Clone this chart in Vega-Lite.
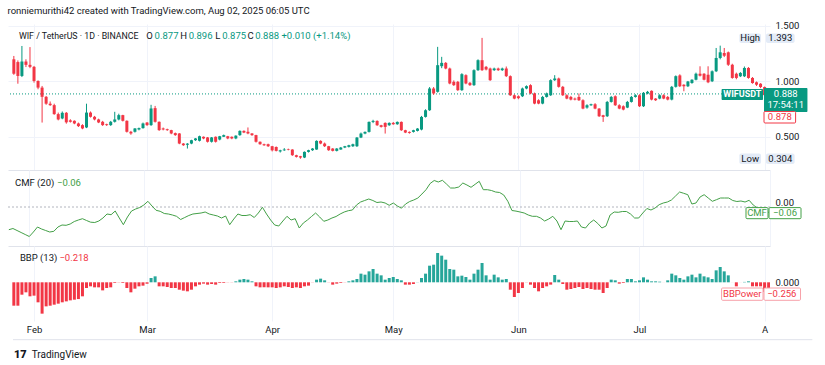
{
"$schema":"https://vega.github.io/schema/vega-lite/v6.json",
"background":"white",
"padding":{"left":7,"top":6,"right":0,"bottom":0},
"title":{"text":"ronniemurithi42 created with TradingView.com, Aug 02, 2025 06:05 UTC","anchor":"start","fontSize":9.5,"font":"Roboto","fontWeight":"normal","color":"#131722","offset":5},
"config":{"view":{"stroke":null},"font":"Roboto","axis":{"labelFont":"Roboto","labelFontSize":9.5,"labelColor":"#131722"},"text":{"font":"Roboto","fontSize":9.5}},
"spacing":0,
"datasets":{"wif":[
{"d":"2025-01-27","o":1.2,"h":1.23,"l":1.06,"c":1.07,"m":-0.227,"b":-0.487},
{"d":"2025-01-28","o":1.175,"h":1.19,"l":0.98,"c":1.05,"m":-0.215,"b":-0.487},
{"d":"2025-01-29","o":1.05,"h":1.32,"l":1.04,"c":1.18,"m":-0.235,"b":-0.258},
{"d":"2025-01-30","o":1.18,"h":1.2,"l":1.13,"c":1.15,"m":-0.255,"b":-0.209},
{"d":"2025-01-31","o":1.15,"h":1.31,"l":1.12,"c":1.132,"m":-0.275,"b":-0.292},
{"d":"2025-02-01","o":1.132,"h":1.14,"l":0.99,"c":1.005,"m":-0.295,"b":-0.278},
{"d":"2025-02-02","o":1.005,"h":1.01,"l":0.93,"c":0.945,"m":-0.25,"b":-0.417},
{"d":"2025-02-03","o":0.945,"h":0.96,"l":0.63,"c":0.862,"m":-0.2,"b":-0.653},
{"d":"2025-02-04","o":0.862,"h":0.87,"l":0.79,"c":0.8,"m":-0.22,"b":-0.501},
{"d":"2025-02-05","o":0.8,"h":0.82,"l":0.78,"c":0.787,"m":-0.235,"b":-0.487},
{"d":"2025-02-06","o":0.787,"h":0.8,"l":0.7,"c":0.706,"m":-0.25,"b":-0.466},
{"d":"2025-02-07","o":0.706,"h":0.72,"l":0.65,"c":0.658,"m":-0.243,"b":-0.445},
{"d":"2025-02-08","o":0.667,"h":0.73,"l":0.66,"c":0.718,"m":-0.2,"b":-0.417},
{"d":"2025-02-09","o":0.718,"h":0.725,"l":0.62,"c":0.632,"m":-0.18,"b":-0.397},
{"d":"2025-02-10","o":0.65,"h":0.66,"l":0.63,"c":0.637,"m":-0.183,"b":-0.376},
{"d":"2025-02-11","o":0.646,"h":0.65,"l":0.615,"c":0.622,"m":-0.17,"b":-0.362},
{"d":"2025-02-12","o":0.622,"h":0.63,"l":0.59,"c":0.598,"m":-0.145,"b":-0.349},
{"d":"2025-02-13","o":0.607,"h":0.615,"l":0.57,"c":0.577,"m":-0.13,"b":-0.292},
{"d":"2025-02-14","o":0.586,"h":0.8,"l":0.58,"c":0.72,"m":-0.117,"b":-0.119},
{"d":"2025-02-15","o":0.72,"h":0.73,"l":0.675,"c":0.682,"m":-0.135,"b":-0.084},
{"d":"2025-02-16","o":0.682,"h":0.69,"l":0.65,"c":0.658,"m":-0.152,"b":-0.105},
{"d":"2025-02-17","o":0.658,"h":0.665,"l":0.625,"c":0.631,"m":-0.155,"b":-0.105},
{"d":"2025-02-18","o":0.637,"h":0.645,"l":0.6,"c":0.607,"m":-0.14,"b":-0.168},
{"d":"2025-02-19","o":0.615,"h":0.62,"l":0.6,"c":0.607,"m":-0.11,"b":-0.119},
{"d":"2025-02-20","o":0.607,"h":0.645,"l":0.6,"c":0.637,"m":-0.07,"b":-0.105},
{"d":"2025-02-21","o":0.637,"h":0.727,"l":0.63,"c":0.658,"m":-0.077,"b":-0.015},
{"d":"2025-02-22","o":0.658,"h":0.71,"l":0.65,"c":0.697,"m":-0.04,"b":-0.004},
{"d":"2025-02-23","o":0.697,"h":0.7,"l":0.64,"c":0.646,"m":-0.11,"b":-0.015},
{"d":"2025-02-24","o":0.646,"h":0.65,"l":0.54,"c":0.547,"m":-0.177,"b":-0.119},
{"d":"2025-02-25","o":0.547,"h":0.555,"l":0.52,"c":0.532,"m":-0.1,"b":-0.209},
{"d":"2025-02-26","o":0.547,"h":0.58,"l":0.54,"c":0.577,"m":-0.04,"b":-0.133},
{"d":"2025-02-27","o":0.568,"h":0.585,"l":0.56,"c":0.58,"m":-0.02,"b":-0.084},
{"d":"2025-02-28","o":0.58,"h":0.63,"l":0.575,"c":0.622,"m":-0.005,"b":-0.07},
{"d":"2025-03-01","o":0.63,"h":0.635,"l":0.6,"c":0.607,"m":0.02,"b":-0.03},
{"d":"2025-03-02","o":0.607,"h":0.79,"l":0.6,"c":0.757,"m":0.057,"b":0.09},
{"d":"2025-03-03","o":0.76,"h":0.78,"l":0.63,"c":0.637,"m":0.01,"b":0.124},
{"d":"2025-03-04","o":0.637,"h":0.64,"l":0.555,"c":0.562,"m":-0.033,"b":-0.084},
{"d":"2025-03-05","o":0.577,"h":0.585,"l":0.56,"c":0.568,"m":-0.043,"b":-0.084},
{"d":"2025-03-06","o":0.57,"h":0.575,"l":0.555,"c":0.562,"m":-0.065,"b":-0.098},
{"d":"2025-03-07","o":0.562,"h":0.565,"l":0.525,"c":0.532,"m":-0.07,"b":-0.119},
{"d":"2025-03-08","o":0.535,"h":0.54,"l":0.51,"c":0.517,"m":-0.08,"b":-0.119},
{"d":"2025-03-09","o":0.532,"h":0.535,"l":0.435,"c":0.441,"m":-0.093,"b":-0.154},
{"d":"2025-03-10","o":0.441,"h":0.445,"l":0.42,"c":0.426,"m":-0.125,"b":-0.174},
{"d":"2025-03-11","o":0.43,"h":0.445,"l":0.396,"c":0.44,"m":-0.105,"b":-0.188},
{"d":"2025-03-12","o":0.441,"h":0.475,"l":0.435,"c":0.471,"m":-0.085,"b":-0.154},
{"d":"2025-03-13","o":0.471,"h":0.49,"l":0.465,"c":0.487,"m":-0.07,"b":-0.084},
{"d":"2025-03-14","o":0.466,"h":0.512,"l":0.46,"c":0.507,"m":-0.065,"b":-0.049},
{"d":"2025-03-15","o":0.502,"h":0.505,"l":0.48,"c":0.487,"m":-0.06,"b":-0.028},
{"d":"2025-03-16","o":0.496,"h":0.5,"l":0.45,"c":0.457,"m":-0.05,"b":-0.049},
{"d":"2025-03-17","o":0.457,"h":0.5,"l":0.45,"c":0.496,"m":-0.07,"b":-0.035},
{"d":"2025-03-18","o":0.502,"h":0.505,"l":0.45,"c":0.457,"m":-0.08,"b":-0.049},
{"d":"2025-03-19","o":0.477,"h":0.51,"l":0.47,"c":0.507,"m":-0.09,"b":-0.015},
{"d":"2025-03-20","o":0.502,"h":0.522,"l":0.5,"c":0.517,"m":-0.11,"b":-0.015},
{"d":"2025-03-21","o":0.507,"h":0.51,"l":0.48,"c":0.487,"m":-0.09,"b":-0.003},
{"d":"2025-03-22","o":0.502,"h":0.505,"l":0.48,"c":0.487,"m":-0.177,"b":-0.003},
{"d":"2025-03-23","o":0.487,"h":0.515,"l":0.48,"c":0.512,"m":-0.12,"b":0.02},
{"d":"2025-03-24","o":0.517,"h":0.56,"l":0.51,"c":0.555,"m":-0.07,"b":0.055},
{"d":"2025-03-25","o":0.555,"h":0.56,"l":0.535,"c":0.54,"m":-0.085,"b":0.069},
{"d":"2025-03-26","o":0.547,"h":0.586,"l":0.525,"c":0.532,"m":-0.085,"b":0.055},
{"d":"2025-03-27","o":0.532,"h":0.535,"l":0.51,"c":0.517,"m":-0.077,"b":0.02},
{"d":"2025-03-28","o":0.517,"h":0.52,"l":0.45,"c":0.457,"m":-0.105,"b":-0.084},
{"d":"2025-03-29","o":0.457,"h":0.46,"l":0.43,"c":0.435,"m":-0.06,"b":-0.105},
{"d":"2025-03-30","o":0.435,"h":0.44,"l":0.42,"c":0.426,"m":-0.003,"b":-0.105},
{"d":"2025-03-31","o":0.435,"h":0.44,"l":0.41,"c":0.417,"m":-0.07,"b":-0.105},
{"d":"2025-04-01","o":0.417,"h":0.42,"l":0.37,"c":0.38,"m":-0.13,"b":-0.105},
{"d":"2025-04-02","o":0.41,"h":0.415,"l":0.37,"c":0.375,"m":-0.18,"b":-0.119},
{"d":"2025-04-03","o":0.37,"h":0.385,"l":0.36,"c":0.38,"m":-0.19,"b":-0.105},
{"d":"2025-04-04","o":0.38,"h":0.4,"l":0.375,"c":0.387,"m":-0.14,"b":-0.084},
{"d":"2025-04-05","o":0.39,"h":0.395,"l":0.38,"c":0.385,"m":-0.093,"b":-0.098},
{"d":"2025-04-06","o":0.387,"h":0.39,"l":0.33,"c":0.336,"m":-0.13,"b":-0.119},
{"d":"2025-04-07","o":0.336,"h":0.34,"l":0.315,"c":0.321,"m":-0.117,"b":-0.105},
{"d":"2025-04-08","o":0.327,"h":0.33,"l":0.304,"c":0.315,"m":-0.21,"b":-0.119},
{"d":"2025-04-09","o":0.315,"h":0.37,"l":0.31,"c":0.366,"m":-0.16,"b":-0.084},
{"d":"2025-04-10","o":0.366,"h":0.385,"l":0.36,"c":0.381,"m":-0.13,"b":-0.07},
{"d":"2025-04-11","o":0.381,"h":0.4,"l":0.375,"c":0.396,"m":-0.095,"b":-0.003},
{"d":"2025-04-12","o":0.387,"h":0.47,"l":0.385,"c":0.465,"m":-0.06,"b":0.055},
{"d":"2025-04-13","o":0.465,"h":0.47,"l":0.435,"c":0.441,"m":-0.1,"b":0.076},
{"d":"2025-04-14","o":0.441,"h":0.45,"l":0.41,"c":0.417,"m":-0.143,"b":0.041},
{"d":"2025-04-15","o":0.417,"h":0.42,"l":0.375,"c":0.381,"m":-0.13,"b":-0.003},
{"d":"2025-04-16","o":0.396,"h":0.4,"l":0.37,"c":0.375,"m":-0.11,"b":-0.049},
{"d":"2025-04-17","o":0.375,"h":0.4,"l":0.37,"c":0.396,"m":-0.095,"b":-0.028},
{"d":"2025-04-18","o":0.387,"h":0.41,"l":0.385,"c":0.405,"m":-0.07,"b":-0.015},
{"d":"2025-04-19","o":0.405,"h":0.42,"l":0.4,"c":0.417,"m":-0.05,"b":-0.003},
{"d":"2025-04-20","o":0.411,"h":0.43,"l":0.405,"c":0.426,"m":-0.037,"b":0.02},
{"d":"2025-04-21","o":0.417,"h":0.44,"l":0.41,"c":0.435,"m":-0.03,"b":0.041},
{"d":"2025-04-22","o":0.417,"h":0.5,"l":0.41,"c":0.495,"m":0.02,"b":0.069},
{"d":"2025-04-23","o":0.495,"h":0.54,"l":0.49,"c":0.531,"m":0.05,"b":0.18},
{"d":"2025-04-24","o":0.531,"h":0.55,"l":0.525,"c":0.546,"m":0.065,"b":0.159},
{"d":"2025-04-25","o":0.546,"h":0.64,"l":0.54,"c":0.636,"m":0.08,"b":0.228},
{"d":"2025-04-26","o":0.636,"h":0.655,"l":0.625,"c":0.645,"m":0.065,"b":0.277},
{"d":"2025-04-27","o":0.645,"h":0.65,"l":0.6,"c":0.606,"m":0.045,"b":0.18},
{"d":"2025-04-28","o":0.606,"h":0.61,"l":0.585,"c":0.591,"m":0.05,"b":0.145},
{"d":"2025-04-29","o":0.627,"h":0.632,"l":0.531,"c":0.591,"m":0.04,"b":0.055},
{"d":"2025-04-30","o":0.606,"h":0.632,"l":0.6,"c":0.627,"m":0.017,"b":0.09},
{"d":"2025-05-01","o":0.627,"h":0.635,"l":0.61,"c":0.615,"m":0.04,"b":0.11},
{"d":"2025-05-02","o":0.615,"h":0.64,"l":0.61,"c":0.636,"m":0.01,"b":0.069},
{"d":"2025-05-03","o":0.636,"h":0.64,"l":0.555,"c":0.561,"m":-0.012,"b":0.041},
{"d":"2025-05-04","o":0.561,"h":0.565,"l":0.535,"c":0.54,"m":0.03,"b":-0.049},
{"d":"2025-05-05","o":0.546,"h":0.55,"l":0.53,"c":0.537,"m":0.055,"b":-0.049},
{"d":"2025-05-06","o":0.546,"h":0.565,"l":0.54,"c":0.561,"m":0.07,"b":-0.035},
{"d":"2025-05-07","o":0.555,"h":0.58,"l":0.55,"c":0.576,"m":0.09,"b":0.003},
{"d":"2025-05-08","o":0.567,"h":0.69,"l":0.56,"c":0.681,"m":0.13,"b":0.09},
{"d":"2025-05-09","o":0.681,"h":0.75,"l":0.675,"c":0.741,"m":0.173,"b":0.18},
{"d":"2025-05-10","o":0.741,"h":0.95,"l":0.735,"c":0.937,"m":0.235,"b":0.346},
{"d":"2025-05-11","o":0.937,"h":0.95,"l":0.88,"c":0.892,"m":0.265,"b":0.367},
{"d":"2025-05-12","o":0.907,"h":1.312,"l":0.9,"c":1.147,"m":0.25,"b":0.61},
{"d":"2025-05-13","o":1.138,"h":1.222,"l":1.12,"c":1.168,"m":0.267,"b":0.555},
{"d":"2025-05-14","o":1.168,"h":1.175,"l":1.11,"c":1.117,"m":0.23,"b":0.471},
{"d":"2025-05-15","o":1.117,"h":1.125,"l":0.975,"c":0.982,"m":0.19,"b":0.277},
{"d":"2025-05-16","o":0.997,"h":1.01,"l":0.96,"c":0.967,"m":0.19,"b":0.263},
{"d":"2025-05-17","o":0.997,"h":1.005,"l":0.915,"c":0.922,"m":0.2,"b":0.124},
{"d":"2025-05-18","o":0.922,"h":1.075,"l":0.915,"c":1.066,"m":0.24,"b":0.138},
{"d":"2025-05-19","o":1.057,"h":1.065,"l":0.975,"c":0.982,"m":0.22,"b":0.11},
{"d":"2025-05-20","o":0.988,"h":0.995,"l":0.96,"c":0.967,"m":0.197,"b":0.055},
{"d":"2025-05-21","o":0.967,"h":1.11,"l":0.96,"c":1.102,"m":0.227,"b":0.18},
{"d":"2025-05-22","o":1.102,"h":1.2,"l":1.095,"c":1.192,"m":0.257,"b":0.263},
{"d":"2025-05-23","o":1.192,"h":1.393,"l":1.095,"c":1.102,"m":0.173,"b":0.402},
{"d":"2025-05-24","o":1.132,"h":1.14,"l":1.1,"c":1.108,"m":0.173,"b":0.145},
{"d":"2025-05-25","o":1.117,"h":1.125,"l":1.005,"c":1.012,"m":0.165,"b":0.055},
{"d":"2025-05-26","o":1.102,"h":1.125,"l":1.095,"c":1.117,"m":0.15,"b":0.159},
{"d":"2025-05-27","o":1.117,"h":1.125,"l":1.095,"c":1.102,"m":0.145,"b":0.103},
{"d":"2025-05-28","o":1.102,"h":1.125,"l":1.095,"c":1.117,"m":0.12,"b":0.055},
{"d":"2025-05-29","o":1.117,"h":1.135,"l":1.04,"c":1.048,"m":0.057,"b":0.069},
{"d":"2025-05-30","o":1.048,"h":1.055,"l":0.87,"c":0.876,"m":-0.035,"b":-0.154},
{"d":"2025-05-31","o":0.876,"h":0.885,"l":0.84,"c":0.846,"m":-0.041,"b":-0.306},
{"d":"2025-06-01","o":0.867,"h":0.875,"l":0.84,"c":0.85,"m":-0.05,"b":-0.223},
{"d":"2025-06-02","o":0.867,"h":0.945,"l":0.86,"c":0.937,"m":-0.06,"b":-0.119},
{"d":"2025-06-03","o":0.937,"h":0.965,"l":0.93,"c":0.958,"m":-0.08,"b":-0.003},
{"d":"2025-06-04","o":0.967,"h":0.975,"l":0.885,"c":0.892,"m":-0.093,"b":-0.049},
{"d":"2025-06-05","o":0.892,"h":0.9,"l":0.795,"c":0.801,"m":-0.093,"b":-0.119},
{"d":"2025-06-06","o":0.831,"h":0.84,"l":0.795,"c":0.801,"m":-0.11,"b":-0.188},
{"d":"2025-06-07","o":0.801,"h":0.87,"l":0.795,"c":0.861,"m":-0.14,"b":-0.119},
{"d":"2025-06-08","o":0.861,"h":0.9,"l":0.855,"c":0.892,"m":-0.12,"b":-0.084},
{"d":"2025-06-09","o":0.876,"h":1.02,"l":0.87,"c":1.012,"m":-0.093,"b":-0.049},
{"d":"2025-06-10","o":1.012,"h":1.057,"l":1.005,"c":1.027,"m":-0.14,"b":0.152},
{"d":"2025-06-11","o":1.027,"h":1.035,"l":0.945,"c":0.952,"m":-0.227,"b":0.055},
{"d":"2025-06-12","o":0.952,"h":0.96,"l":0.87,"c":0.876,"m":-0.14,"b":-0.035},
{"d":"2025-06-13","o":0.876,"h":0.885,"l":0.84,"c":0.846,"m":-0.145,"b":-0.154},
{"d":"2025-06-14","o":0.861,"h":0.87,"l":0.83,"c":0.837,"m":-0.145,"b":-0.14},
{"d":"2025-06-15","o":0.846,"h":0.855,"l":0.83,"c":0.837,"m":-0.14,"b":-0.119},
{"d":"2025-06-16","o":0.861,"h":0.892,"l":0.825,"c":0.831,"m":-0.2,"b":-0.098},
{"d":"2025-06-17","o":0.831,"h":0.84,"l":0.75,"c":0.756,"m":-0.21,"b":-0.14},
{"d":"2025-06-18","o":0.765,"h":0.795,"l":0.755,"c":0.786,"m":-0.16,"b":-0.119},
{"d":"2025-06-19","o":0.786,"h":0.8,"l":0.78,"c":0.795,"m":-0.13,"b":-0.14},
{"d":"2025-06-20","o":0.795,"h":0.805,"l":0.75,"c":0.756,"m":-0.165,"b":-0.154},
{"d":"2025-06-21","o":0.756,"h":0.76,"l":0.68,"c":0.687,"m":-0.21,"b":-0.154},
{"d":"2025-06-22","o":0.696,"h":0.7,"l":0.636,"c":0.681,"m":-0.19,"b":-0.223},
{"d":"2025-06-23","o":0.687,"h":0.825,"l":0.68,"c":0.816,"m":-0.08,"b":-0.119},
{"d":"2025-06-24","o":0.816,"h":0.87,"l":0.81,"c":0.861,"m":-0.05,"b":0.055},
{"d":"2025-06-25","o":0.867,"h":0.875,"l":0.78,"c":0.786,"m":-0.053,"b":0.041},
{"d":"2025-06-26","o":0.786,"h":0.795,"l":0.75,"c":0.756,"m":-0.045,"b":-0.028},
{"d":"2025-06-27","o":0.777,"h":0.785,"l":0.74,"c":0.747,"m":-0.045,"b":-0.015},
{"d":"2025-06-28","o":0.765,"h":0.825,"l":0.76,"c":0.816,"m":-0.07,"b":0.069},
{"d":"2025-06-29","o":0.816,"h":0.87,"l":0.81,"c":0.861,"m":-0.11,"b":0.069},
{"d":"2025-06-30","o":0.861,"h":0.885,"l":0.855,"c":0.876,"m":-0.11,"b":0.02},
{"d":"2025-07-01","o":0.876,"h":0.885,"l":0.77,"c":0.777,"m":-0.06,"b":0.041},
{"d":"2025-07-02","o":0.777,"h":0.905,"l":0.77,"c":0.898,"m":-0.015,"b":0.103},
{"d":"2025-07-03","o":0.892,"h":0.915,"l":0.885,"c":0.907,"m":-0.03,"b":0.055},
{"d":"2025-07-04","o":0.916,"h":0.92,"l":0.83,"c":0.837,"m":-0.01,"b":0.02},
{"d":"2025-07-05","o":0.846,"h":0.85,"l":0.825,"c":0.831,"m":0.023,"b":0.02},
{"d":"2025-07-06","o":0.846,"h":0.885,"l":0.84,"c":0.876,"m":0.04,"b":0.013},
{"d":"2025-07-07","o":0.876,"h":0.885,"l":0.84,"c":0.846,"m":0.05,"b":-0.001},
{"d":"2025-07-08","o":0.861,"h":0.87,"l":0.83,"c":0.837,"m":0.07,"b":0.041},
{"d":"2025-07-09","o":0.837,"h":0.96,"l":0.83,"c":0.952,"m":0.11,"b":0.18},
{"d":"2025-07-10","o":0.952,"h":1.055,"l":0.945,"c":1.048,"m":0.15,"b":0.145},
{"d":"2025-07-11","o":1.055,"h":1.065,"l":0.95,"c":0.957,"m":0.137,"b":0.09},
{"d":"2025-07-12","o":0.971,"h":0.975,"l":0.912,"c":0.957,"m":0.123,"b":0.055},
{"d":"2025-07-13","o":0.957,"h":1.005,"l":0.95,"c":1.0,"m":0.03,"b":0.124},
{"d":"2025-07-14","o":0.986,"h":1.02,"l":0.98,"c":1.016,"m":0.04,"b":0.159},
{"d":"2025-07-15","o":1.016,"h":1.08,"l":1.01,"c":1.07,"m":0.1,"b":0.103},
{"d":"2025-07-16","o":1.07,"h":1.137,"l":1.045,"c":1.052,"m":0.123,"b":0.18},
{"d":"2025-07-17","o":1.07,"h":1.075,"l":1.01,"c":1.016,"m":0.09,"b":0.124},
{"d":"2025-07-18","o":1.061,"h":1.137,"l":0.985,"c":0.993,"m":0.057,"b":0.103},
{"d":"2025-07-19","o":1.002,"h":1.1,"l":0.995,"c":1.092,"m":0.073,"b":0.069},
{"d":"2025-07-20","o":1.092,"h":1.302,"l":1.085,"c":1.212,"m":0.09,"b":0.249},
{"d":"2025-07-21","o":1.212,"h":1.323,"l":1.2,"c":1.263,"m":0.09,"b":0.319},
{"d":"2025-07-22","o":1.257,"h":1.302,"l":1.22,"c":1.232,"m":0.09,"b":0.228},
{"d":"2025-07-23","o":1.263,"h":1.27,"l":1.14,"c":1.151,"m":0.065,"b":0.145},
{"d":"2025-07-24","o":1.151,"h":1.16,"l":1.025,"c":1.032,"m":0.055,"b":-0.001},
{"d":"2025-07-25","o":1.07,"h":1.08,"l":1.02,"c":1.032,"m":0.06,"b":-0.084},
{"d":"2025-07-26","o":1.047,"h":1.085,"l":1.04,"c":1.077,"m":0.05,"b":-0.001},
{"d":"2025-07-27","o":1.047,"h":1.135,"l":1.04,"c":1.122,"m":0.067,"b":0.008},
{"d":"2025-07-28","o":1.122,"h":1.13,"l":1.025,"c":1.032,"m":0.02,"b":0.02},
{"d":"2025-07-29","o":1.032,"h":1.04,"l":0.98,"c":0.986,"m":-0.01,"b":-0.084},
{"d":"2025-07-30","o":0.993,"h":1.0,"l":0.96,"c":0.971,"m":-0.03,"b":-0.084},
{"d":"2025-07-31","o":0.98,"h":0.985,"l":0.94,"c":0.95,"m":-0.045,"b":-0.084},
{"d":"2025-08-01","o":0.95,"h":0.955,"l":0.865,"c":0.877,"m":-0.055,"b":-0.2},
{"d":"2025-08-02","o":0.877,"h":0.896,"l":0.875,"c":0.888,"m":-0.06,"b":-0.256}
]},
"vconcat":[
{"width":762,"height":146,"layer":[
 {"data":{"values":[{}]},"mark":{"type":"rule","color":"#089981","strokeDash":[1,2],"strokeWidth":1},"encoding":{"y":{"datum":0.888,"type":"quantitative"}}},
 {"data":{"name":"wif"},"mark":{"type":"rule","strokeWidth":1,"clip":true},"encoding":{
   "x":{"field":"d","type":"temporal","scale":{"type":"utc","domain":[1737918000000,1754014977000]},"axis":{"values":[{"year":2025,"month":2,"date":1,"utc":true},{"year":2025,"month":3,"date":1,"utc":true},{"year":2025,"month":4,"date":1,"utc":true},{"year":2025,"month":5,"date":1,"utc":true},{"year":2025,"month":6,"date":1,"utc":true},{"year":2025,"month":7,"date":1,"utc":true},{"year":2025,"month":8,"date":1,"utc":true}],"labels":false,"ticks":false,"domain":true,"domainColor":"#e0e3eb","grid":true,"gridColor":"#f0f3fa","title":null}},
   "y":{"field":"l","type":"quantitative","scale":{"domain":[0.2027,1.518],"nice":false,"zero":false},"axis":{"orient":"right","values":[0.5,1.0,1.5],"format":".3f","grid":true,"gridColor":"#f0f3fa","ticks":false,"domain":false,"labelPadding":5,"title":null}},
   "y2":{"field":"h"},
   "color":{"condition":{"test":"datum.c >= datum.o","value":"#089981"},"value":"#f23645"}}},
 {"data":{"name":"wif"},"mark":{"type":"bar","width":3,"clip":true},"encoding":{
   "x":{"field":"d","type":"temporal"},
   "y":{"field":"o","type":"quantitative"},"y2":{"field":"c"},
   "color":{"condition":{"test":"datum.c >= datum.o","value":"#089981"},"value":"#f23645"}}},
 {"data":{"values":[{}]},"mark":{"type":"text","text":"WIF / TetherUS · 1D · BINANCE","align":"left","baseline":"middle","color":"#131722","fontSize":8.8},"encoding":{"x":{"datum":1738044748164,"type":"temporal"},"y":{"datum":1.41,"type":"quantitative"}}},
 {"data":{"values":[{}]},"mark":{"type":"text","text":"O","align":"left","baseline":"middle","color":"#131722"},"encoding":{"x":{"datum":1740769833690,"type":"temporal"},"y":{"datum":1.41,"type":"quantitative"}}},
 {"data":{"values":[{}]},"mark":{"type":"text","text":"0.877","align":"left","baseline":"middle","color":"#089981"},"encoding":{"x":{"datum":1740949393589,"type":"temporal"},"y":{"datum":1.41,"type":"quantitative"}}},
 {"data":{"values":[{}]},"mark":{"type":"text","text":"H","align":"left","baseline":"middle","color":"#131722"},"encoding":{"x":{"datum":1741498635633,"type":"temporal"},"y":{"datum":1.41,"type":"quantitative"}}},
 {"data":{"values":[{}]},"mark":{"type":"text","text":"0.896","align":"left","baseline":"middle","color":"#089981"},"encoding":{"x":{"datum":1741678195532,"type":"temporal"},"y":{"datum":1.41,"type":"quantitative"}}},
 {"data":{"values":[{}]},"mark":{"type":"text","text":"L","align":"left","baseline":"middle","color":"#131722"},"encoding":{"x":{"datum":1742248562270,"type":"temporal"},"y":{"datum":1.41,"type":"quantitative"}}},
 {"data":{"values":[{}]},"mark":{"type":"text","text":"0.875","align":"left","baseline":"middle","color":"#089981"},"encoding":{"x":{"datum":1742396435128,"type":"temporal"},"y":{"datum":1.41,"type":"quantitative"}}},
 {"data":{"values":[{}]},"mark":{"type":"text","text":"C","align":"left","baseline":"middle","color":"#131722"},"encoding":{"x":{"datum":1742935114825,"type":"temporal"},"y":{"datum":1.41,"type":"quantitative"}}},
 {"data":{"values":[{}]},"mark":{"type":"text","text":"0.888","align":"left","baseline":"middle","color":"#089981"},"encoding":{"x":{"datum":1743104112377,"type":"temporal"},"y":{"datum":1.41,"type":"quantitative"}}},
 {"data":{"values":[{}]},"mark":{"type":"text","text":"+0.010 (+1.14%)","align":"left","baseline":"middle","color":"#089981"},"encoding":{"x":{"datum":1743663916768,"type":"temporal"},"y":{"datum":1.41,"type":"quantitative"}}},
 {"data":{"values":[{}]},"mark":{"type":"rect","fill":"#e3ebf7","cornerRadius":2},"encoding":{"x":{"datum":1753465774784,"type":"temporal"},"x2":{"datum":1753930518052},"y":{"datum":1.432,"type":"quantitative"},"y2":{"datum":1.347}}},
 {"data":{"values":[{}]},"mark":{"type":"rect","fill":"#e3ebf7","cornerRadius":2},"encoding":{"x":{"datum":1754036141522,"type":"temporal"},"x2":{"datum":1754648757648},"y":{"datum":1.432,"type":"quantitative"},"y2":{"datum":1.347}}},
 {"data":{"values":[{}]},"mark":{"type":"text","text":"High","align":"center","baseline":"middle","color":"#131722"},"encoding":{"x":{"datum":1753698146418,"type":"temporal"},"y":{"datum":1.392,"type":"quantitative"}}},
 {"data":{"values":[{}]},"mark":{"type":"text","text":"1.393","align":"center","baseline":"middle","color":"#131722"},"encoding":{"x":{"datum":1754342449585,"type":"temporal"},"y":{"datum":1.392,"type":"quantitative"}}},
 {"data":{"values":[{}]},"mark":{"type":"rect","fill":"#e3ebf7","cornerRadius":2},"encoding":{"x":{"datum":1753465774784,"type":"temporal"},"x2":{"datum":1753930518052},"y":{"datum":0.351,"type":"quantitative"},"y2":{"datum":0.257}}},
 {"data":{"values":[{}]},"mark":{"type":"rect","fill":"#e3ebf7","cornerRadius":2},"encoding":{"x":{"datum":1754036141522,"type":"temporal"},"x2":{"datum":1754648757648},"y":{"datum":0.351,"type":"quantitative"},"y2":{"datum":0.257}}},
 {"data":{"values":[{}]},"mark":{"type":"text","text":"Low","align":"center","baseline":"middle","color":"#131722"},"encoding":{"x":{"datum":1753698146418,"type":"temporal"},"y":{"datum":0.3045,"type":"quantitative"}}},
 {"data":{"values":[{}]},"mark":{"type":"text","text":"0.304","align":"center","baseline":"middle","color":"#131722"},"encoding":{"x":{"datum":1754342449585,"type":"temporal"},"y":{"datum":0.3045,"type":"quantitative"}}},
 {"data":{"values":[{}]},"mark":{"type":"rect","fill":"#089981","cornerRadius":1},"encoding":{"x":{"datum":1753085530292,"type":"temporal"},"x2":{"datum":1753972767440},"y":{"datum":0.932,"type":"quantitative"},"y2":{"datum":0.833}}},
 {"data":{"values":[{}]},"mark":{"type":"text","text":"WIFUSDT","align":"center","baseline":"middle","color":"white","fontWeight":"bold","fontSize":9},"encoding":{"x":{"datum":1753529148866,"type":"temporal"},"y":{"datum":0.883,"type":"quantitative"}}},
 {"data":{"values":[{}]},"mark":{"type":"rect","fill":"#089981","cornerRadius":1},"encoding":{"x":{"datum":1753993892134,"type":"temporal"},"x2":{"datum":1754923378670},"y":{"datum":0.941,"type":"quantitative"},"y2":{"datum":0.725}}},
 {"data":{"values":[{}]},"mark":{"type":"text","text":"0.888","align":"center","baseline":"middle","color":"white"},"encoding":{"x":{"datum":1754458635402,"type":"temporal"},"y":{"datum":0.883,"type":"quantitative"}}},
 {"data":{"values":[{}]},"mark":{"type":"text","text":"17:54:11","align":"center","baseline":"middle","color":"white"},"encoding":{"x":{"datum":1754458635402,"type":"temporal"},"y":{"datum":0.788,"type":"quantitative"}}},
 {"data":{"values":[{}]},"mark":{"type":"rect","fill":"white","stroke":"#f23645","strokeWidth":1,"cornerRadius":1},"encoding":{"x":{"datum":1753993892134,"type":"temporal"},"x2":{"datum":1754669882342},"y":{"datum":0.73,"type":"quantitative"},"y2":{"datum":0.626}}},
 {"data":{"values":[{}]},"mark":{"type":"text","text":"0.878","align":"center","baseline":"middle","color":"#f23645"},"encoding":{"x":{"datum":1754331887238,"type":"temporal"},"y":{"datum":0.678,"type":"quantitative"}}}
]},
{"width":762,"height":76,"layer":[
 {"data":{"values":[{}]},"mark":{"type":"rule","color":"#b2b5be","strokeDash":[2,2],"strokeWidth":1},"encoding":{"y":{"datum":0,"type":"quantitative"}}},
 {"data":{"name":"wif"},"mark":{"type":"line","color":"#43a047","strokeWidth":1,"clip":true},"encoding":{
   "x":{"field":"d","type":"temporal","scale":{"type":"utc","domain":[1737918000000,1754014977000]},"axis":{"values":[{"year":2025,"month":2,"date":1,"utc":true},{"year":2025,"month":3,"date":1,"utc":true},{"year":2025,"month":4,"date":1,"utc":true},{"year":2025,"month":5,"date":1,"utc":true},{"year":2025,"month":6,"date":1,"utc":true},{"year":2025,"month":7,"date":1,"utc":true},{"year":2025,"month":8,"date":1,"utc":true}],"labels":false,"ticks":false,"domain":true,"domainColor":"#e0e3eb","grid":true,"gridColor":"#f0f3fa","title":null}},
   "y":{"field":"m","type":"quantitative","scale":{"domain":[-0.39,0.37],"nice":false,"zero":false},"axis":{"orient":"right","values":[0],"format":".2f","grid":false,"ticks":false,"domain":false,"labelPadding":5,"labelBaseline":"bottom","title":null}}}},
 {"data":{"values":[{}]},"mark":{"type":"text","text":"CMF (20)","align":"left","baseline":"middle","color":"#131722"},"encoding":{"x":{"datum":1738065872858,"type":"temporal"},"y":{"datum":0.24,"type":"quantitative"}}},
 {"data":{"values":[{}]},"mark":{"type":"text","text":"−0.06","align":"left","baseline":"middle","color":"#43a047"},"encoding":{"x":{"datum":1738953110006,"type":"temporal"},"y":{"datum":0.24,"type":"quantitative"}}},
 {"data":{"values":[{}]},"mark":{"type":"rect","fill":"white","stroke":"#43a047","strokeWidth":1,"cornerRadius":1},"encoding":{"x":{"datum":1753508024172,"type":"temporal"},"x2":{"datum":1753972767440},"y":{"datum":-0.006,"type":"quantitative"},"y2":{"datum":-0.117}}},
 {"data":{"values":[{}]},"mark":{"type":"rect","fill":"white","stroke":"#43a047","strokeWidth":1,"cornerRadius":1},"encoding":{"x":{"datum":1753993892134,"type":"temporal"},"x2":{"datum":1754669882342},"y":{"datum":-0.006,"type":"quantitative"},"y2":{"datum":-0.117}}},
 {"data":{"values":[{}]},"mark":{"type":"text","text":"CMF","align":"center","baseline":"middle","color":"#43a047"},"encoding":{"x":{"datum":1753740395806,"type":"temporal"},"y":{"datum":-0.062,"type":"quantitative"}}},
 {"data":{"values":[{}]},"mark":{"type":"text","text":"−0.06","align":"center","baseline":"middle","color":"#43a047"},"encoding":{"x":{"datum":1754331887238,"type":"temporal"},"y":{"datum":-0.062,"type":"quantitative"}}}
]},
{"width":762,"height":75,"layer":[
 {"data":{"name":"wif"},"mark":{"type":"bar","width":3,"clip":true},"encoding":{
   "x":{"field":"d","type":"temporal","scale":{"type":"utc","domain":[1737918000000,1754014977000]},"axis":{"values":[{"year":2025,"month":2,"date":1,"utc":true},{"year":2025,"month":3,"date":1,"utc":true},{"year":2025,"month":4,"date":1,"utc":true},{"year":2025,"month":5,"date":1,"utc":true},{"year":2025,"month":6,"date":1,"utc":true},{"year":2025,"month":7,"date":1,"utc":true},{"year":2025,"month":8,"date":1,"utc":true}],"labelExpr":"utcFormat(datum.value, '%b') == 'Aug' ? 'A' : utcFormat(datum.value, '%b')","labelFlush":5,"labelPadding":3,"ticks":false,"tickSize":0,"domain":false,"grid":true,"gridColor":"#f0f3fa","title":null}},
   "y":{"field":"b","type":"quantitative","scale":{"domain":[-0.806,0.756],"nice":false,"zero":false},"axis":{"orient":"right","values":[0],"format":".3f","grid":false,"ticks":false,"domain":false,"labelPadding":5,"title":null}},
   "y2":{"datum":0},
   "color":{"condition":{"test":"datum.b >= 0","value":"#26a69a"},"value":"#f23645"}}},
 {"data":{"values":[{}]},"mark":{"type":"text","text":"BBP (13)","align":"left","baseline":"middle","color":"#131722"},"encoding":{"x":{"datum":1738065872858,"type":"temporal"},"y":{"datum":0.506,"type":"quantitative"}}},
 {"data":{"values":[{}]},"mark":{"type":"text","text":"−0.218","align":"left","baseline":"middle","color":"#f23645"},"encoding":{"x":{"datum":1738910860618,"type":"temporal"},"y":{"datum":0.506,"type":"quantitative"}}},
 {"data":{"values":[{}]},"mark":{"type":"rect","fill":"white","stroke":"#f7a1a9","strokeWidth":1,"cornerRadius":1},"encoding":{"x":{"datum":1753085530292,"type":"temporal"},"x2":{"datum":1753972767440},"y":{"datum":-0.119,"type":"quantitative"},"y2":{"datum":-0.375}}},
 {"data":{"values":[{}]},"mark":{"type":"rect","fill":"white","stroke":"#f7a1a9","strokeWidth":1,"cornerRadius":1},"encoding":{"x":{"datum":1753993892134,"type":"temporal"},"x2":{"datum":1754775505812},"y":{"datum":-0.119,"type":"quantitative"},"y2":{"datum":-0.375}}},
 {"data":{"values":[{}]},"mark":{"type":"text","text":"BBPower","align":"center","baseline":"middle","color":"#f23645"},"encoding":{"x":{"datum":1753529148866,"type":"temporal"},"y":{"datum":-0.248,"type":"quantitative"}}},
 {"data":{"values":[{}]},"mark":{"type":"text","text":"−0.256","align":"center","baseline":"middle","color":"#f23645"},"encoding":{"x":{"datum":1754374136626,"type":"temporal"},"y":{"datum":-0.248,"type":"quantitative"}}},
 {"data":{"values":[{}]},"mark":{"type":"rule","color":"#e0e3eb","strokeWidth":1},"encoding":{"x":{"datum":1737918000000,"type":"temporal"},"x2":{"datum":1755029002140},"y":{"datum":-1.195,"type":"quantitative"}}},
 {"data":{"values":[{}]},"mark":{"type":"text","text":"17","align":"left","baseline":"middle","color":"#131722","fontWeight":900,"fontSize":11},"encoding":{"x":{"datum":1737939124694,"type":"temporal"},"y":{"datum":-1.514,"type":"quantitative"}}},
 {"data":{"values":[{}]},"mark":{"type":"text","text":"TradingView","align":"left","baseline":"middle","color":"#131722","fontSize":10},"encoding":{"x":{"datum":1738319369186,"type":"temporal"},"y":{"datum":-1.514,"type":"quantitative"}}}
]}
]
}
